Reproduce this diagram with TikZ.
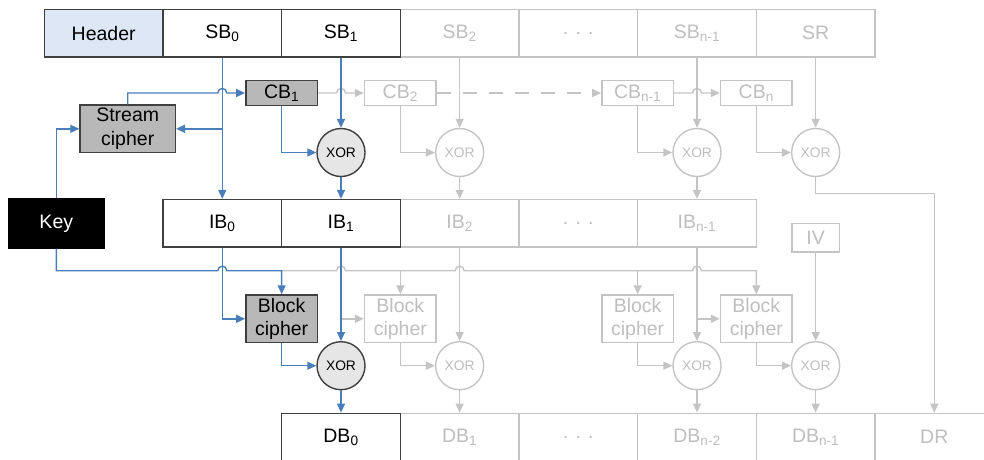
\documentclass[tikz,border=0pt]{standalone}
\usepackage{fontspec}
\setmainfont{Liberation Sans}
\usetikzlibrary{arrows.meta,calc}
\definecolor{cBlue}{RGB}{74,126,187}
\definecolor{cLine}{RGB}{196,196,196}
\definecolor{cTxt}{RGB}{190,190,190}
\definecolor{cDark}{RGB}{64,64,64}
\definecolor{cMid}{RGB}{184,184,184}
\definecolor{cHdr}{RGB}{221,231,245}
\definecolor{cXor}{RGB}{230,230,230}
\begin{document}
\begin{tikzpicture}[x=1pt,y=-1pt,line width=1.4pt,
  lbl/.style={font=\fontsize{19.5}{23.5}\selectfont},
  cell/.style={lbl,rectangle,draw=cLine,text=cTxt,minimum width=118.7pt,minimum height=47.5pt,inner sep=0pt},
  darkbox/.style={draw=cDark,text=black},
  smallbox/.style={lbl,rectangle,draw=cLine,text=cTxt,minimum width=71.7pt,minimum height=24.6pt,inner sep=0pt},
  cipherbox/.style={lbl,rectangle,draw=cLine,text=cTxt,minimum width=71.7pt,minimum height=47.7pt,inner sep=0pt,align=center},
  xornode/.style={circle,draw=cLine,text=cTxt,minimum size=48pt,inner sep=0pt,font=\fontsize{13.8}{16}\selectfont},
  bluearrow/.style={draw=cBlue,-{Triangle[length=9pt,width=8pt]}},
  grayarrow/.style={draw=cLine,-{Triangle[length=9pt,width=8pt]}},
  grayline/.style={draw=cLine},
  blueline/.style={draw=cBlue}]
\path[use as bounding box,clip] (0,0) rectangle (984,459);
% ---------- grey cells
\node[cell] (sb2) at (459.65,33.25) {SB\textsubscript{2}};
\node[cell] (sbdots) at (578.3,33.25) {. . .};
\node[cell] (sbn1) at (697.0,33.25) {SB\textsubscript{n-1}};
\node[cell] (sr) at (815.65,33.25) {SR};
\node[cell] (ib2) at (459.65,223.3) {IB\textsubscript{2}};
\node[cell] (ibdots) at (578.3,223.3) {. . .};
\node[cell] (ibn1) at (697.0,223.3) {IB\textsubscript{n-1}};
\node[cell] (db1) at (459.65,437.05) {DB\textsubscript{1}};
\node[cell] (dbdots) at (578.3,437.05) {. . .};
\node[cell] (dbn2) at (697.0,437.05) {DB\textsubscript{n-2}};
\node[cell] (dbn1) at (815.65,437.05) {DB\textsubscript{n-1}};
\node[cell] (dr) at (934.3,437.05) {DR};
% ---------- dark cells
\node[cell,darkbox,fill=cHdr] (hdr) at (103.65,33.25) {Header};
\node[cell,darkbox] (sb0) at (222.3,33.25) {SB\textsubscript{0}};
\node[cell,darkbox] (sb1) at (341.0,33.25) {SB\textsubscript{1}};
\node[cell,darkbox] (ib0) at (222.3,223.3) {IB\textsubscript{0}};
\node[cell,darkbox] (ib1) at (341.0,223.3) {IB\textsubscript{1}};
\node[cell,darkbox] (db0) at (341.0,437.05) {DB\textsubscript{0}};
% ---------- other boxes
\node[lbl,rectangle,draw=cDark,fill=cMid,minimum width=95.3pt,minimum height=47.7pt,inner sep=0pt,align=center] (sc) at (127.7,128.8) {Stream\\cipher};
\node[lbl,rectangle,draw=black,fill=black,text=white,minimum width=96pt,minimum height=49pt,inner sep=0pt] (key) at (56.3,223.5) {Key};
\node[smallbox,darkbox,fill=cMid] (cb1) at (281.65,93) {CB\textsubscript{1}};
\node[smallbox] (cb2) at (400.3,93) {CB\textsubscript{2}};
\node[smallbox] (cbn1) at (637.65,93) {CB\textsubscript{n-1}};
\node[smallbox] (cbn) at (756.3,93) {CB\textsubscript{n}};
\node[cipherbox,darkbox,fill=cMid] (bc1) at (281.65,318.8) {Block\\cipher};
\node[cipherbox] (bc2) at (400.3,318.8) {Block\\cipher};
\node[cipherbox] (bcn1) at (637.65,318.8) {Block\\cipher};
\node[cipherbox] (bcn) at (756.3,318.8) {Block\\cipher};
\node[lbl,rectangle,draw=cLine,text=cTxt,minimum width=47.3pt,minimum height=28.3pt,inner sep=0pt] (iv) at (815.65,237.8) {IV};
\node[xornode,draw=cDark,fill=cXor,text=black] (x1) at (341.0,152.5) {XOR};
\node[xornode] (x2) at (459.65,152.5) {XOR};
\node[xornode] (xn1) at (697.0,152.5) {XOR};
\node[xornode] (xn) at (815.65,152.5) {XOR};
\node[xornode,draw=cDark,fill=cXor,text=black] (y1) at (341.0,365.7) {XOR};
\node[xornode] (y2) at (459.65,365.7) {XOR};
\node[xornode] (yn1) at (697.0,365.7) {XOR};
\node[xornode] (yn) at (815.65,365.7) {XOR};
% ---------- helper coordinates
\coordinate (krow) at (56.3,270.7);
\coordinate (drow) at (0,193.3);
\coordinate (h1) at (sb0.south |- cb1.west);
\coordinate (h2) at (sb1.south |- cb1.east);
\coordinate (h3) at (sbn1.south |- cbn1.east);
\coordinate (k1) at (ib0.south |- krow);
\coordinate (k2) at (ib1.south |- krow);
\coordinate (k3) at (ib2.south |- krow);
\coordinate (k4) at (ibn1.south |- krow);
% ---------- grey connectors
\draw[grayarrow] (cb1.east) -- ([xshift=-4.5pt]h2) .. controls +(0,-6) and +(0,-6) .. ([xshift=4.5pt]h2) -- (cb2.west);
\draw[grayarrow,dash pattern=on 14pt off 12pt] (cb2.east) -- (cbn1.west);
\draw[grayarrow] (cbn1.east) -- ([xshift=-4.5pt]h3) .. controls +(0,-6) and +(0,-6) .. ([xshift=4.5pt]h3) -- (cbn.west);
\draw[grayarrow] (sb2.south) -- (x2.north);
\draw[grayarrow] (cb2.south) |- (x2.west);
\draw[grayarrow] (x2.south) -- (ib2.north);
\draw[grayarrow] (sbn1.south) -- (xn1.north);
\draw[grayarrow] (cbn1.south) |- (xn1.west);
\draw[grayarrow] (xn1.south) -- (ibn1.north);
\draw[grayarrow] (sr.south) -- (xn.north);
\draw[grayarrow] (cbn.south) |- (xn.west);
\draw[grayarrow] (xn.south) -- (xn.south |- drow) -- (dr.north |- drow) -- (dr.north);
\draw[grayarrow] (bc1.north |- krow) -- ([xshift=-4.5pt]k2) .. controls +(0,-6) and +(0,-6) .. ([xshift=4.5pt]k2)
  -- ([xshift=-4.5pt]k3) .. controls +(0,-6) and +(0,-6) .. ([xshift=4.5pt]k3)
  -- ([xshift=-4.5pt]k4) .. controls +(0,-6) and +(0,-6) .. ([xshift=4.5pt]k4)
  -- (bcn.north |- krow) -- (bcn.north);
\draw[grayarrow] (bc2.north |- krow) -- (bc2.north);
\draw[grayarrow] (bcn1.north |- krow) -- (bcn1.north);
\draw[grayarrow] (ib1.south |- bc2.west) -- (bc2.west);
\draw[grayarrow] (ib2.south) -- (y2.north);
\draw[grayarrow] (bc2.south) |- (y2.west);
\draw[grayarrow] (y2.south) -- (db1.north);
\draw[grayarrow] (ibn1.south) -- (yn1.north);
\draw[grayarrow] (ibn1.south |- bcn.west) -- (bcn.west);
\draw[grayarrow] (bcn1.south) |- (yn1.west);
\draw[grayarrow] (yn1.south) -- (dbn2.north);
\draw[grayarrow] (iv.south) -- (yn.north);
\draw[grayarrow] (bcn.south) |- (yn.west);
\draw[grayarrow] (yn.south) -- (dbn1.north);
% ---------- blue connectors
\draw[bluearrow] (sb0.south) -- (ib0.north);
\draw[bluearrow] (sb0.south |- sc.east) -- (sc.east);
\draw[bluearrow] (key.north) |- (sc.west);
\draw[bluearrow] (sc.north) -- (sc.north |- cb1.west) -- ([xshift=-4.5pt]h1) .. controls +(0,-6) and +(0,-6) .. ([xshift=4.5pt]h1) -- (cb1.west);
\draw[bluearrow] (sb1.south) -- (x1.north);
\draw[bluearrow] (cb1.south) |- (x1.west);
\draw[bluearrow] (x1.south) -- (ib1.north);
\draw[bluearrow] (key.south) -- (key.south |- krow) -- ([xshift=-4.5pt]k1) .. controls +(0,-6) and +(0,-6) .. ([xshift=4.5pt]k1) -- (bc1.north |- krow) -- (bc1.north);
\draw[bluearrow] (ib0.south) |- (bc1.west);
\draw[bluearrow] (ib1.south) -- (y1.north);
\draw[bluearrow] (bc1.south) |- (y1.west);
\draw[bluearrow] (y1.south) -- (db0.north);
\end{tikzpicture}
\end{document}
